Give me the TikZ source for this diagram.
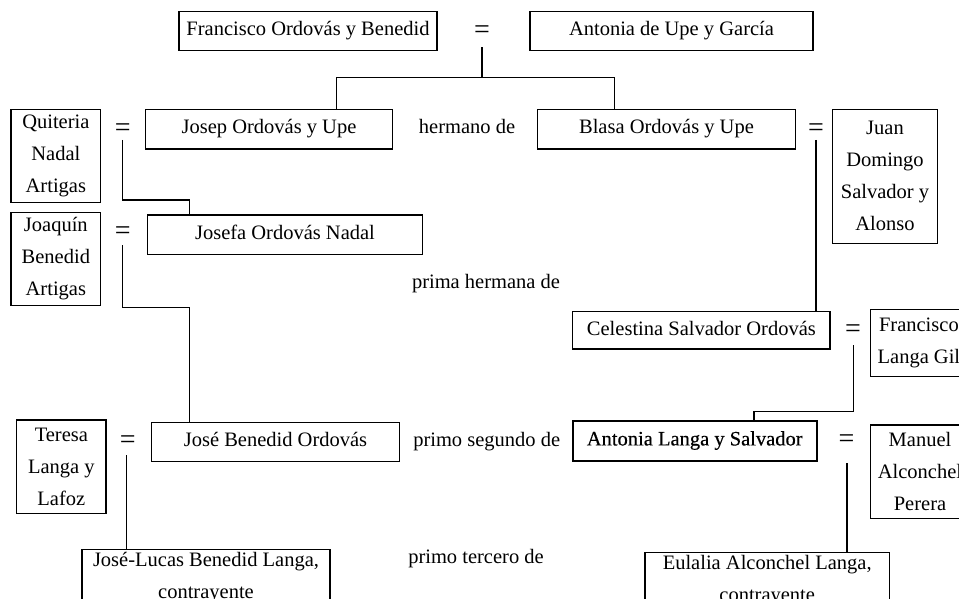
\documentclass[tikz,border=0pt]{standalone}
\usepackage{fontspec}
\setmainfont{Liberation Serif}
\newfontfamily\heavyfont[FakeBold=0.4]{Liberation Serif}
\newcommand\nf{\fontsize{20.5}{32}\selectfont}
\begin{document}
\begin{tikzpicture}[x=1pt,y=-1pt,
  box/.style={draw, line width=1.2pt, inner sep=0pt, outer sep=0pt, align=center, font=\nf},
  one/.style={text height=14pt, text depth=4.5pt},
  lbl/.style={inner sep=0pt, font=\nf, one},
  eq/.style={inner sep=0pt, font=\fontsize{28}{28}\selectfont},
  link/.style={line width=1.2pt}]
\useasboundingbox (0,0) rectangle (959,599);
\clip (0,0) rectangle (959,599);
% single-line boxes
\node[box,one,minimum width=258pt,minimum height=39.5pt] (fob) at (308,31) {Francisco Ordovás y Benedid};
\node[box,one,minimum width=283pt,minimum height=39.5pt] (aug) at (671.5,31) {Antonia de Upe y García};
\node[box,one,minimum width=246.6pt,minimum height=39.7pt] (jou) at (269,129.2) {Josep Ordovás y Upe};
\node[box,one,minimum width=257.6pt,minimum height=39.7pt] (bou) at (666.5,129.2) {Blasa Ordovás y Upe};
\node[box,one,minimum width=275.4pt,minimum height=39.3pt] (jon) at (285,234.7) {Josefa Ordovás Nadal};
\node[box,one,minimum width=257.3pt,minimum height=37.3pt] (cso) at (701.4,330.4) {Celestina Salvador Ordovás};
\node[box,one,minimum width=247.6pt,minimum height=39.4pt] (jbo) at (275.5,442) {José Benedid Ordovás};
\node[box,one,line width=1.8pt,minimum width=244pt,minimum height=40pt,font=\nf\heavyfont] (als) at (694.7,440.7) {Antonia Langa y Salvador};
% multi-line boxes
\node[box,minimum width=89.7pt,minimum height=93pt] (qna) at (55.85,155.8) {Quiteria\\Nadal\\Artigas};
\node[box,minimum width=89.7pt,minimum height=93.4pt] (jba) at (55.85,259) {Joaquín\\Benedid\\Artigas};
\node[box,minimum width=104.6pt,minimum height=134pt] (jds) at (885,176.3) {Juan\\Domingo\\Salvador y\\Alonso};
\node[box,minimum width=89.3pt,minimum height=93.3pt] (tll) at (61.35,466.7) {Teresa\\Langa y\\Lafoz};
\node[box,minimum width=96.3pt,minimum height=67.4pt] (flg) at (918.9,343) {Francisco\\Langa Gil};
\node[box,minimum width=98.6pt,minimum height=93.3pt] (mac) at (920,471.7) {Manuel\\Alconchel\\Perera};
\node[box,anchor=north,inner ysep=3pt,minimum width=248pt] (jlb) at (206,549.3) {José-Lucas Benedid Langa,\\contrayente};
\node[box,anchor=north,inner ysep=3pt,minimum width=244.3pt] (eal) at (767.2,552.3) {Eulalia Alconchel Langa,\\contrayente};
% relation labels
\node[lbl] (l1) at (467,128.5) {hermano de};
\node[lbl] (l2) at (486,283.5) {prima hermana de};
\node[lbl] (l3) at (486.7,442) {primo segundo de};
\node[lbl] (l4) at (476,558.5) {primo tercero de};
% marriage signs
\node[eq] (e0) at (482,32) {=};
\node[eq] (e1) at (122.7,130) {=};
\node[eq] (e2) at (816,130) {=};
\node[eq] (e3) at (122.7,233.5) {=};
\node[eq] (e4) at (853,331) {=};
\node[eq] (e5) at (127.7,442) {=};
\node[eq] (e6) at (846.5,441) {=};
% connectors
\coordinate (c0) at (482,47.5);
\coordinate (h0) at (482,77.3);
\draw[link] (c0) -- (h0);
\draw[link] ([xshift=67.7pt]jou.north) |- (h0) -| ([xshift=-52.2pt]bou.north);
\coordinate (c1) at (122.7,140);
\draw[link] (c1) |- ([xshift=-95.7pt,yshift=15pt]jon.north) -- ([xshift=-95.7pt]jon.north);
\coordinate (c3) at (122.7,245);
\draw[link] (c3) |- ([xshift=-86.2pt,yshift=115pt]jbo.north) -- ([xshift=-86.2pt]jbo.north);
\coordinate (c2) at (816,140);
\draw[link] (c2) -- (c2 |- cso.north);
\coordinate (c4) at (853.3,345);
\draw[link] (c4) |- ([xshift=59.3pt,yshift=9.2pt]als.north) -- ([xshift=59.3pt]als.north);
\coordinate (c5) at (126.7,455);
\draw[link] (c5) -- (c5 |- jlb.north);
\coordinate (c6) at (847,463);
\draw[link] (c6) -- (c6 |- eal.north);
\end{tikzpicture}
\end{document}
